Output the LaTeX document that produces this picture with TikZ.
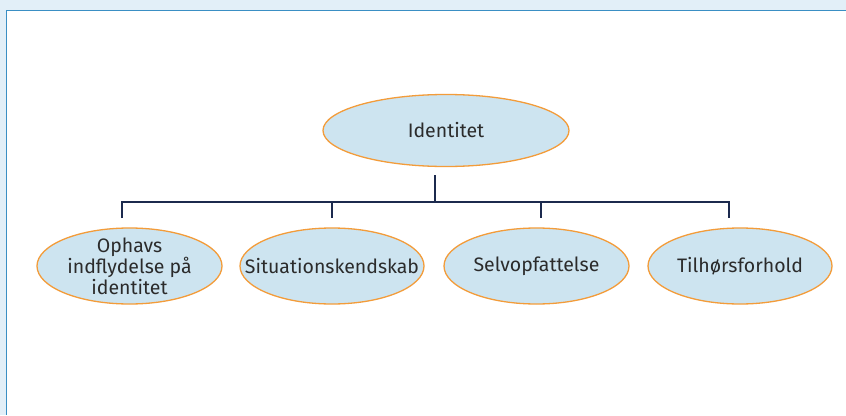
\documentclass[tikz,border=0pt]{standalone}
\usepackage{fontspec}
\setmainfont{Fira Sans}
\usetikzlibrary{shapes.geometric}
\definecolor{framebg}{HTML}{E2EFF8}
\definecolor{frameline}{HTML}{3A8FC4}
\definecolor{bubblefill}{HTML}{CDE4F0}
\definecolor{bubbleedge}{HTML}{F39C3A}
\definecolor{linknavy}{HTML}{1C2A4E}
\definecolor{labelgrey}{HTML}{2B2B2B}
\tikzset{
  % negative inner sep lets the fixed minimum size decide the ellipse
  bubble/.style={ellipse, draw=bubbleedge, fill=bubblefill, line width=1.3pt,
    inner xsep=-45pt, inner ysep=-10pt, text=labelgrey,
    font=\fontsize{19.5}{18.5}\selectfont, align=center},
  link/.style={draw=linknavy, line width=2pt}
}
\begin{document}
\begin{tikzpicture}[x=1pt,y=-1pt]
  % frame
  \useasboundingbox (0,0) rectangle (846,415);
  \fill[framebg] (0,0) rectangle (846,415);
  \fill[white] (6,10.5) rectangle (846,415);
  \draw[frameline, line width=1.5pt] (846,10.5) -- (6.5,10.5) -- (6.5,415);

  % nodes
  \node[bubble, minimum width=246pt, minimum height=72pt] (id) at (446,130.5) {Identitet};
  \node[bubble, minimum width=185pt, minimum height=76pt] (oph) at (129.5,266) {Ophavs\\indflydelse på\\identitet};
  \node[bubble, minimum width=184pt, minimum height=76pt] (sit) at (332,266) {Situationskendskab};
  \node[bubble, minimum width=185pt, minimum height=76pt] (sel) at (536.5,266) {Selvopfattelse};
  \node[bubble, minimum width=184pt, minimum height=76pt] (til) at (740,266) {Tilhørsforhold};

  % tree connectors
  \coordinate (stem) at (435,175);
  \coordinate (bar) at (435,202);
  \coordinate (d1) at (122,218);
  \coordinate (d2) at (332,218);
  \coordinate (d3) at (541,218);
  \coordinate (d4) at (729,218);
  \draw[link] (stem) -- (bar);
  \draw[link] (d1) -- (d1 |- bar) -- (d4 |- bar) -- (d4);
  \draw[link] (d2 |- bar) -- (d2);
  \draw[link] (d3 |- bar) -- (d3);
\end{tikzpicture}
\end{document}
